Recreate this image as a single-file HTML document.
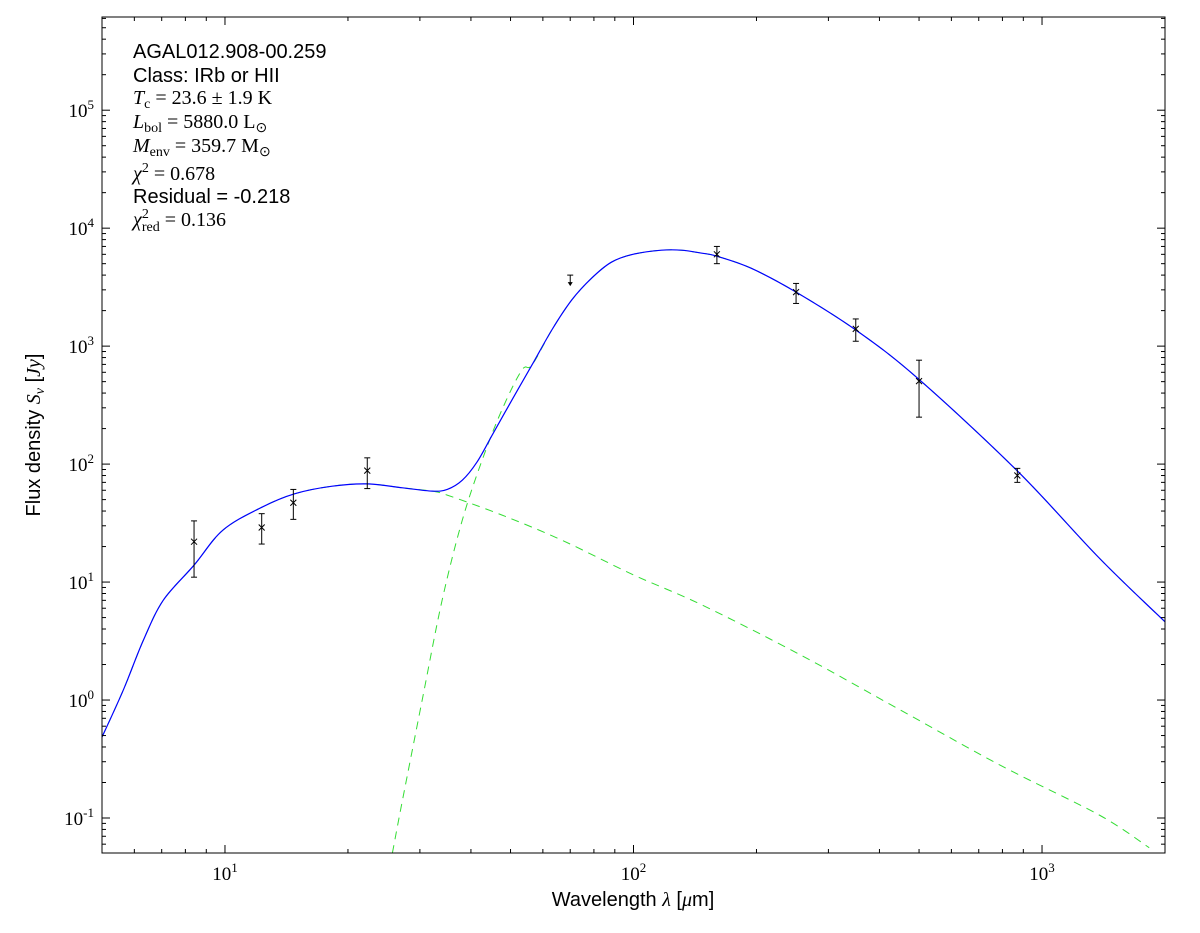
<!DOCTYPE html>
<html><head><meta charset="utf-8">
<style>
body{margin:0;background:#fff;}
svg{display:block;}
.lab{font-family:"Liberation Sans",sans-serif;font-size:20px;fill:#000;}
.ser{font-family:"Liberation Serif",serif;font-size:20px;fill:#000;}
.tick{font-family:"Liberation Serif",serif;font-size:19px;fill:#000;}
</style></head>
<body>
<svg id="chart" width="1200" height="933" viewBox="0 0 1200 933">
<rect x="0" y="0" width="1200" height="933" fill="#fff"/>
<g id="plot"></g>
<g>
<text class="lab" x="133" y="58">AGAL012.908-00.259</text>
<text class="lab" x="133" y="82">Class: IRb or HII</text>
<text class="ser" x="133" y="104"><tspan font-style="italic">T</tspan><tspan font-size="14" dy="4">c</tspan><tspan dy="-4"> = 23.6 ± 1.9 K</tspan></text>
<text class="ser" x="133" y="128"><tspan font-style="italic">L</tspan><tspan font-size="14" dy="4">bol</tspan><tspan dy="-4"> = 5880.0 L</tspan><tspan font-size="14" dy="4">⊙</tspan></text>
<text class="ser" x="133" y="152"><tspan font-style="italic">M</tspan><tspan font-size="14" dy="4">env</tspan><tspan dy="-4"> = 359.7 M</tspan><tspan font-size="14" dy="4">⊙</tspan></text>
<text class="ser" x="133" y="180"><tspan font-style="italic">χ</tspan><tspan font-size="14" dy="-8">2</tspan><tspan dy="8"> = 0.678</tspan></text>
<text class="lab" x="133" y="203">Residual = -0.218</text>
<text class="ser" x="133" y="226"><tspan font-style="italic">χ</tspan><tspan font-size="14" dy="-8">2</tspan><tspan font-size="14" dx="-7" dy="13">red</tspan><tspan dy="-5"> = 0.136</tspan></text>
</g>
<text class="lab" x="633" y="906" text-anchor="middle">Wavelength <tspan font-family="Liberation Serif" font-style="italic">λ</tspan> [<tspan font-family="Liberation Serif" font-style="italic">μ</tspan>m]</text>
<text class="lab" transform="translate(40,435) rotate(-90)" text-anchor="middle">Flux density <tspan font-family="Liberation Serif" font-style="italic">S<tspan font-size="14" dy="4">ν</tspan></tspan><tspan dy="-4"> [</tspan><tspan font-family="Liberation Serif" font-style="italic">Jy</tspan>]</text>
</svg>
<script>
const obsWave=[8.4,12.3,14.7,22.3,160,250,350,500,870];
const obsFlux=[22,29,47,88,6000,2870,1400,505,80];
const obsLo=[11,21,34,62,5000,2300,1100,250,70];
const obsHi=[33,38,61,113,7000,3400,1700,760,92];
const limWave=[70];
const limFlux=[4000];
const totWave=[5.0,5.64,6.31,7.06,8.4,9.89,12.3,14.8,18.3,22.3,27.2,32.1,35.0,38.1,41.4,45.1,50.4,56.4,63.1,70.6,79,88.3,100,117,131,147,160,194,250,350,496,866,1380,2000];
const totFlux=[0.485,1.22,3.2,7.0,13.9,27.6,43,56,65,68,63,59,61,73,104,176,349,690,1370,2460,3770,5150,6020,6500,6500,6140,5790,4580,2870,1370,535,89,16,4.6];
const warmWave=[5.0,5.64,6.31,7.06,8.4,9.89,12.3,14.8,18.3,22.3,27.2,32.1,35.0,47.6,66.7,100,147,257,451,790,1380,1830];
const warmFlux=[0.485,1.22,3.2,7.0,13.9,27.6,43,56,65,68,63,59,54.6,37,22.7,11.5,6.4,2.4,0.82,0.28,0.106,0.056];
const coldWave=[25.7,27.2,30.4,34.0,38.1,42.6,47.6,53.3,56.4,63.1,70.6,79,88.3,100,117,131,147,160,194,250,350,496,866,1380,2000];
const coldFlux=[0.0505,0.142,1.0,7.0,33.5,108,287,627,690,1370,2460,3770,5150,6020,6500,6500,6140,5790,4580,2870,1370,535,89,16,4.6];

const L=102,R=1165,T=17,B=853;
const xmin=5,xmax=2000,ymin=0.0505,ymax=10**5.79;
function xs(v){return L+(Math.log10(v)-Math.log10(xmin))/(Math.log10(xmax)-Math.log10(xmin))*(R-L);}
function ys(v){return B-(Math.log10(v)-Math.log10(ymin))/(Math.log10(ymax)-Math.log10(ymin))*(B-T);}
const NS='http://www.w3.org/2000/svg';
const g=document.getElementById('plot');
function el(t,a,p){const e=document.createElementNS(NS,t);for(const k in a)e.setAttribute(k,a[k]);(p||g).appendChild(e);return e;}
const clip=el('clipPath',{id:'cp'});el('rect',{x:L,y:T,width:R-L,height:B-T},clip);
function line(w,f,style,name){
  const P=w.map((v,i)=>[xs(v),ys(f[i])]);
  let d='M'+P[0][0].toFixed(1)+','+P[0][1].toFixed(1);
  for(let i=0;i<P.length-1;i++){
    const p0=P[Math.max(0,i-1)],p1=P[i],p2=P[i+1],p3=P[Math.min(P.length-1,i+2)];
    const c1=[p1[0]+(p2[0]-p0[0])/6,p1[1]+(p2[1]-p0[1])/6];
    const c2=[p2[0]-(p3[0]-p1[0])/6,p2[1]-(p3[1]-p1[1])/6];
    d+='C'+c1[0].toFixed(1)+','+c1[1].toFixed(1)+' '+c2[0].toFixed(1)+','+c2[1].toFixed(1)+' '+p2[0].toFixed(1)+','+p2[1].toFixed(1);
  }
  const p=el('path',Object.assign({d:d,fill:'none','clip-path':'url(#cp)'},style));
  
  
}
line(warmWave,warmFlux,{stroke:'#33dd33','stroke-width':1,'stroke-dasharray':'8,6'},'warm-component-line');
line(coldWave,coldFlux,{stroke:'#33dd33','stroke-width':1,'stroke-dasharray':'8,6'},'cold-component-line');
line(totWave,totFlux,{stroke:'#0000ff','stroke-width':1.2},'total-model-line');
obsWave.forEach((w,i)=>{
  const x=xs(w),y=ys(obsFlux[i]);
  const gp=el('g',{});
  
  
  el('line',{x1:x,x2:x,y1:ys(obsLo[i]),y2:ys(obsHi[i]),stroke:'#000','stroke-width':1},gp);
  el('line',{x1:x-3,x2:x+3,y1:ys(obsLo[i]),y2:ys(obsLo[i]),stroke:'#000'},gp);
  el('line',{x1:x-3,x2:x+3,y1:ys(obsHi[i]),y2:ys(obsHi[i]),stroke:'#000'},gp);
  el('path',{d:`M${x-3},${y-3}L${x+3},${y+3}M${x-3},${y+3}L${x+3},${y-3}`,stroke:'#000','stroke-width':1},gp);
});
limWave.forEach((w,i)=>{
  const x=xs(w),y=ys(limFlux[i]);
  const gp=el('g',{});
  
  
  el('line',{x1:x-3,x2:x+3,y1:y,y2:y,stroke:'#000'},gp);
  el('line',{x1:x,x2:x,y1:y,y2:y+10,stroke:'#000'},gp);
  el('path',{d:`M${x-2.5},${y+7}L${x+2.5},${y+7}L${x},${y+11}Z`,fill:'#000'},gp);
});
const fr=el('rect',{x:L,y:T,width:R-L,height:B-T,fill:'none',stroke:'#000','stroke-width':1});


for(let e=0;e<=3;e++){for(let m=1;m<10;m++){const v=m*10**e;if(v<xmin||v>xmax)continue;const x=xs(v);const len=m==1?8:4;
  el('line',{x1:x,x2:x,y1:B,y2:B-len,stroke:'#000'});el('line',{x1:x,x2:x,y1:T,y2:T+len,stroke:'#000'});
  if(m==1&&e>=1){const t=el('text',{class:'tick',x:x,y:B+27,'text-anchor':'middle'});t.innerHTML='10<tspan font-size="13" dy="-8">'+e+'</tspan>';
    
    }}}
for(let e=-2;e<=5;e++){for(let m=1;m<10;m++){const v=m*10**e;if(v<ymin||v>ymax)continue;const y=ys(v);const len=m==1?8:4;
  el('line',{x1:L,x2:L+len,y1:y,y2:y,stroke:'#000'});el('line',{x1:R,x2:R-len,y1:y,y2:y,stroke:'#000'});
  if(m==1){const t=el('text',{class:'tick',x:L-8,y:y+7,'text-anchor':'end'});t.innerHTML='10<tspan font-size="13" dy="-8">'+e+'</tspan>';
    
    }}}
</script>
</body></html>
